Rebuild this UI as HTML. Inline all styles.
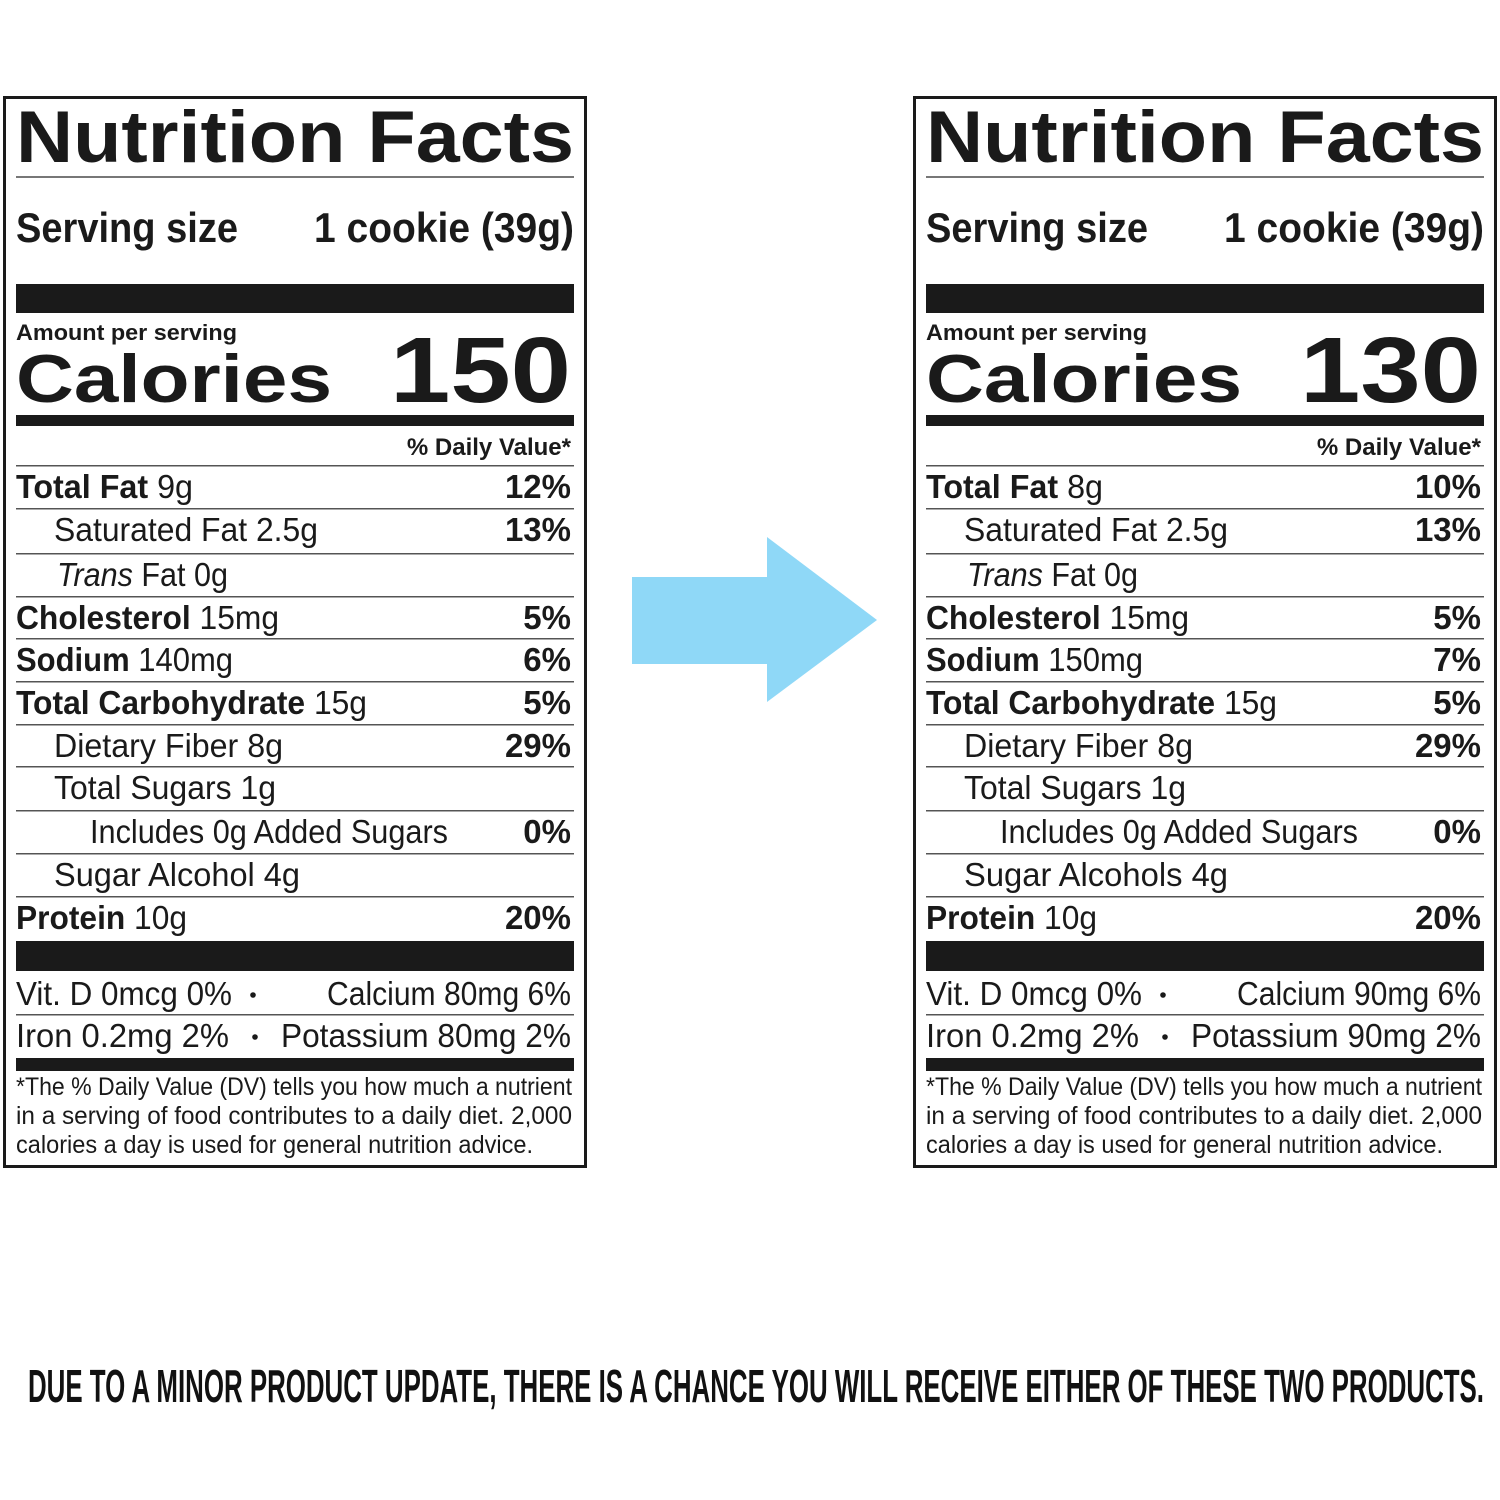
<!DOCTYPE html>
<html><head><meta charset="utf-8"><style>
html,body{margin:0;padding:0;background:#fff;}
svg{display:block;}
</style></head><body>
<svg id="page" width="1500" height="1500" viewBox="0 0 1500 1500" xmlns="http://www.w3.org/2000/svg">
<rect width="1500" height="1500" fill="#fff"/>
<g id="arrow" fill="#8fd8f7">
<rect x="632" y="577" width="136" height="87"/>
<polygon points="767,537 877,620 767,702"/>
</g>
<text x="28" y="1402" font-family="'Liberation Sans Narrow','Liberation Sans',sans-serif" font-size="46" font-weight="bold" fill="#111" textLength="1456" lengthAdjust="spacingAndGlyphs">DUE TO A MINOR PRODUCT UPDATE, THERE IS A CHANCE YOU WILL RECEIVE EITHER OF THESE TWO PRODUCTS.</text>
</svg>
<script>
const NS='http://www.w3.org/2000/svg';
const svg=document.getElementById('page');
const NARROW="'Liberation Sans Narrow','Liberation Sans',sans-serif";
const WIDE="'Liberation Sans',sans-serif";
const calories=['150','130'];
const rowsLabel=[
 ['Total Fat','9g','12%',16,177],
 ['Saturated Fat','2.5g','13%',54,264],
 ['Trans','Fat 0g','',57,171],
 ['Cholesterol','15mg','5%',16,263],
 ['Sodium','140mg','6%',16,217],
 ['Total Carbohydrate','15g','5%',16,351],
 ['Dietary Fiber','8g','29%',54,229],
 ['Total Sugars','1g','',54,222],
 ['Includes 0g Added Sugars','','0%',90,358],
 ['Sugar Alcohol','4g','',54,246],
 ['Protein','10g','20%',16,171]
];
const rowsRight={0:['9g','8g','12%','10%'],4:['140mg','150mg','6%','7%'],9:['Sugar Alcohol','Sugar Alcohols']};
const minerals=[['Calcium 80mg 6%','Potassium 80mg 2%'],['Calcium 90mg 6%','Potassium 90mg 2%']];
function el(tag,attrs,parent){const e=document.createElementNS(NS,tag);for(const k in attrs)e.setAttribute(k,attrs[k]);parent.appendChild(e);return e;}
function txt(parent,x,y,s,size,opts){const t=el('text',Object.assign({x:x,y:y,'font-size':size,fill:'#1a1a1a','font-family':NARROW},opts||{}),parent);t.textContent=s;return t;}
for(let L=0;L<2;L++){
 const dx=L*910;
 const g=el('g',{transform:'translate('+dx+',0)'},svg);
 
 
 el('rect',{x:4.5,y:97.5,width:581,height:1069,fill:'none',stroke:'#1a1a1a','stroke-width':3},g);
 let t=txt(g,16,162,'Nutrition Facts',73,{'font-family':WIDE,'font-weight':'900',textLength:558,lengthAdjust:'spacingAndGlyphs'});
 
 
 el('rect',{x:16,y:176,width:558,height:2,fill:'#777'},g);
 t=txt(g,16,242,'Serving size',42,{'font-weight':'bold',textLength:222,lengthAdjust:'spacingAndGlyphs'});
 
 
 t=txt(g,314,242,'1 cookie (39g)',42,{'font-weight':'bold',textLength:260,lengthAdjust:'spacingAndGlyphs'});
 
 
 el('rect',{x:16,y:284,width:558,height:29,fill:'#1a1a1a'},g);
 t=txt(g,16,340,'Amount per serving',22,{'font-weight':'bold',textLength:221,lengthAdjust:'spacingAndGlyphs'});
 
 
 t=txt(g,16,402,'Calories',68,{'font-family':WIDE,'font-weight':'900',textLength:316,lengthAdjust:'spacingAndGlyphs'});
 
 
 t=txt(g,390,402,calories[L],93,{'font-family':WIDE,'font-weight':'900',textLength:181,lengthAdjust:'spacingAndGlyphs'});
 
 
 el('rect',{x:16,y:415,width:558,height:11,fill:'#1a1a1a'},g);
 t=txt(g,571,455,'% Daily Value*',24,{'font-weight':'bold','text-anchor':'end'});
 
 
 const lines=[465,508,553,596,638,681,724,766,810,853,896];
 lines.forEach((ly,i)=>{
  el('rect',{x:16,y:ly,width:558,height:1.5,fill:'#555'},g);
 });
 rowsLabel.forEach((r,i)=>{
  let [a,b,p,x,w]=r;
  if(rowsRight[i]){
   const rr=rowsRight[i];
   if(rr.length===4){b=L?rr[1]:rr[0];p=L?rr[3]:rr[2];}
   else{a=L?rr[1]:rr[0];if(L)w=264;}
  }
  const y=lines[i]+33;
  const row=el('text',{x:x,y:y,'font-size':33,fill:'#1a1a1a','font-family':NARROW,textLength:w,lengthAdjust:'spacingAndGlyphs'},g);
  
  
  const bold=(x===16);
  const s1=el('tspan',{'font-weight':bold?'bold':'normal','font-style':a==='Trans'?'italic':'normal'},row);
  s1.textContent=a;
  if(b){const s2=el('tspan',{},row);s2.textContent=' '+b;}
  if(p){
   const pt=txt(g,571,y,p,33,{'font-weight':'bold','text-anchor':'end'});
   
   
  }
 });
 el('rect',{x:16,y:941,width:558,height:30,fill:'#1a1a1a'},g);
 t=txt(g,16,1005,'Vit. D 0mcg 0%',33,{textLength:216,lengthAdjust:'spacingAndGlyphs'});
 
 
 el('circle',{cx:253,cy:995,r:2.8,fill:'#1a1a1a'},g);
 t=txt(g,571,1005,minerals[L][0],33,{'text-anchor':'end',textLength:244,lengthAdjust:'spacingAndGlyphs'});
 
 
 el('rect',{x:16,y:1014,width:558,height:1.5,fill:'#555'},g);
 t=txt(g,16,1047,'Iron 0.2mg 2%',33,{textLength:213,lengthAdjust:'spacingAndGlyphs'});
 
 
 el('circle',{cx:255,cy:1037,r:2.8,fill:'#1a1a1a'},g);
 t=txt(g,571,1047,minerals[L][1],33,{'text-anchor':'end',textLength:290,lengthAdjust:'spacingAndGlyphs'});
 
 
 el('rect',{x:16,y:1058,width:558,height:13,fill:'#1a1a1a'},g);
 const foot=['*The % Daily Value (DV) tells you how much a nutrient','in a serving of food contributes to a daily diet. 2,000','calories a day is used for general nutrition advice.'];
 const fw=[556,556,517];
 foot.forEach((f,i)=>{
  const ft=txt(g,16,1095+i*29,f,25,{textLength:fw[i],lengthAdjust:'spacingAndGlyphs'});
  
  
 });
}
</script>
</body></html>
